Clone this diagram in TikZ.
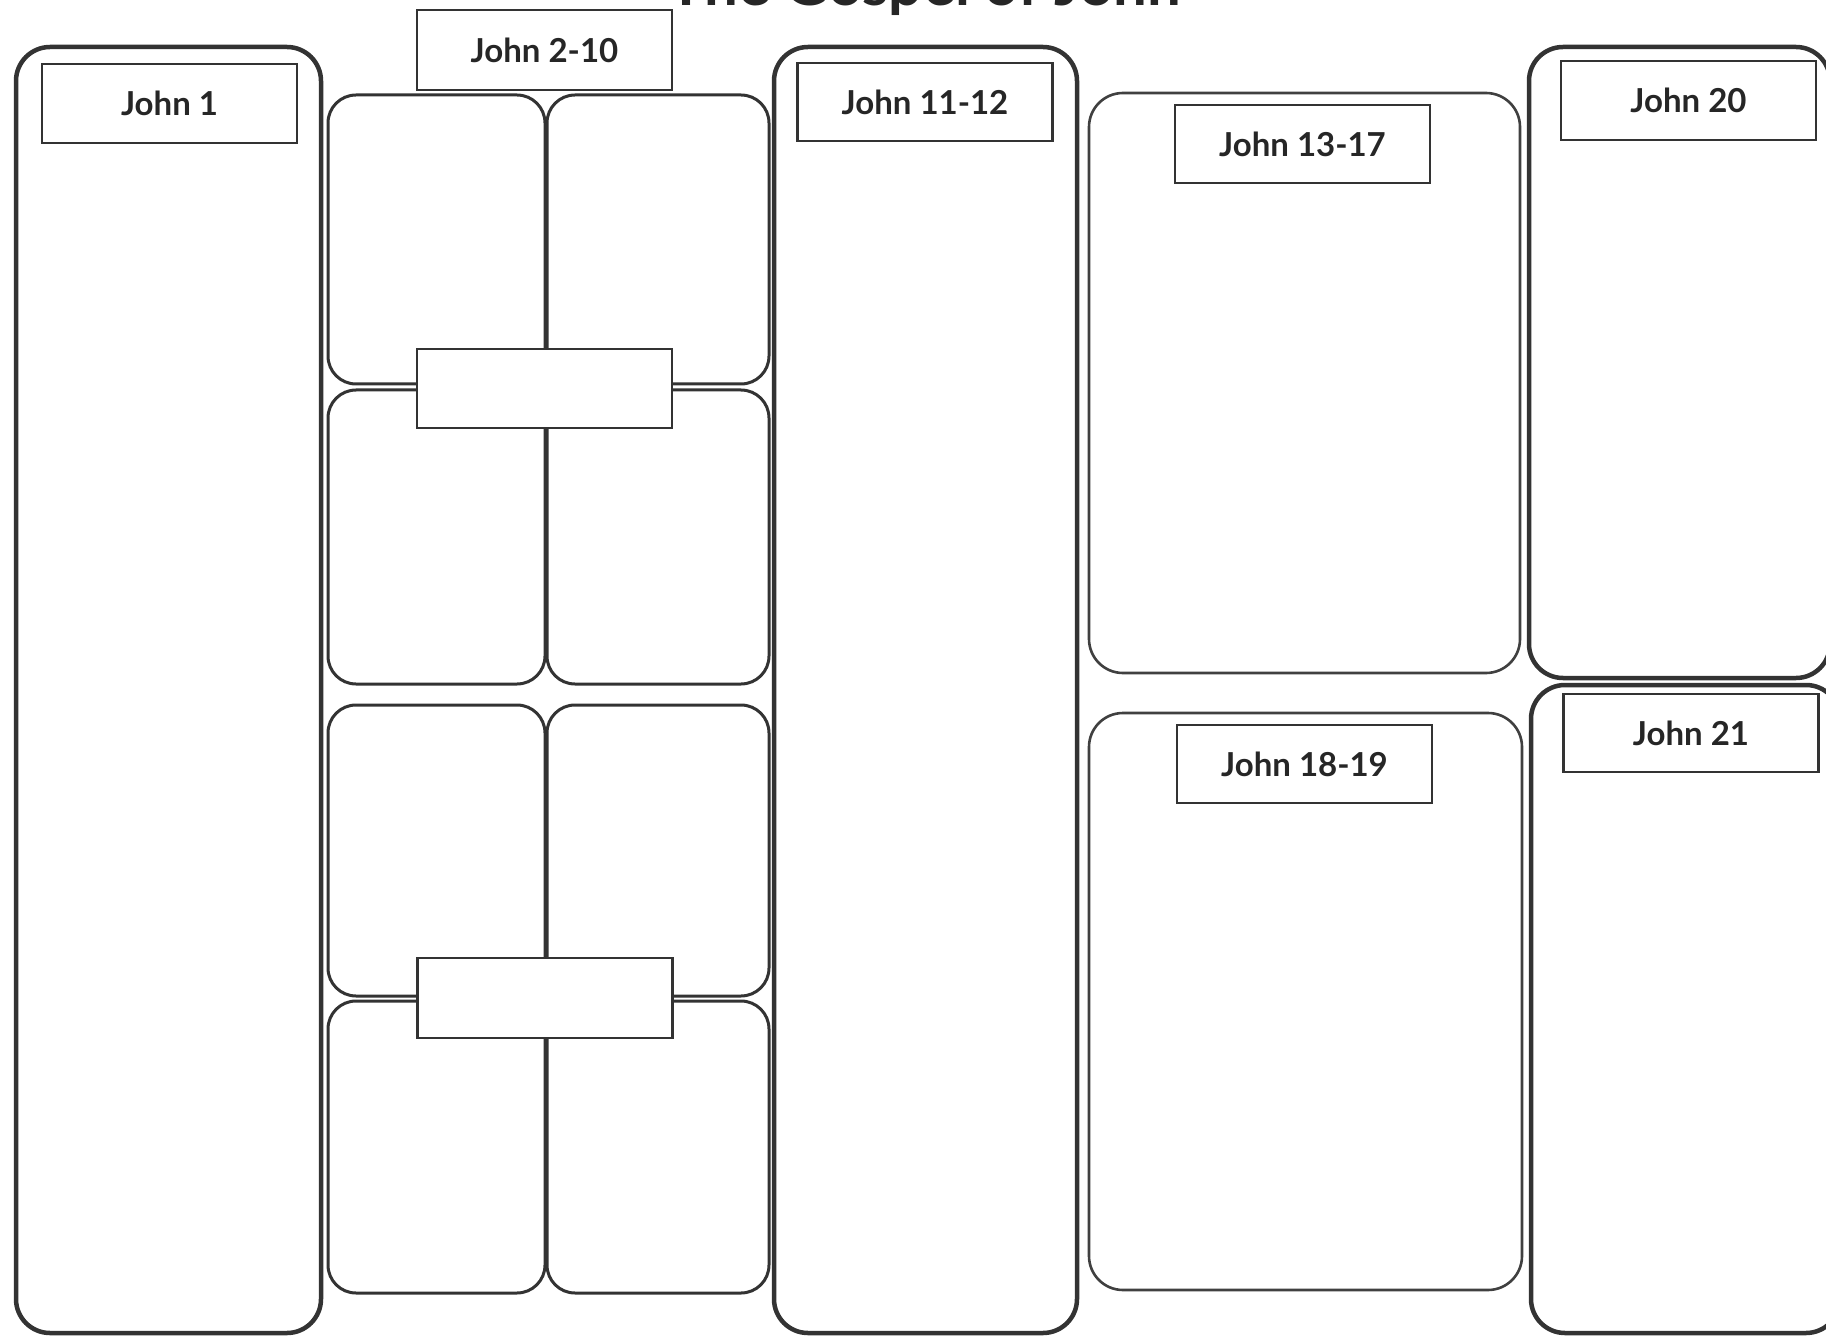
\documentclass[tikz,border=0pt]{standalone}
\usepackage{fontspec}
\setmainfont{Lato}
\begin{document}
\begin{tikzpicture}[x=1pt,y=-1pt,
  outerbox/.style={draw=black!80, line width=4.5pt, rounded corners=34pt, inner sep=0pt},
  gridbox/.style={draw=black!80, line width=3pt, rounded corners=28pt, inner sep=0pt},
  bigbox/.style={draw=black!75, line width=2.6pt, rounded corners=34pt, inner sep=0pt},
  labelbox/.style={draw=black!80, fill=white, line width=2.4pt, inner sep=0pt,
    minimum width=255pt, minimum height=79pt, font=\fontsize{33}{36}\selectfont\bfseries, text=black!85},
  titletext/.style={font=\fontsize{60}{64}\selectfont\bfseries, text=black!85, inner sep=0pt, anchor=base}
]
\useasboundingbox (0,0) rectangle (1826,1337);
\clip (0,0) rectangle (1826,1337);
\fill[white] (0,0) rectangle (1826,1337);

% title (cut off at the top, as in the reference)
\node[titletext] (title) at (925,6) {The Gospel of John};

% outer tall boxes
\node[outerbox, minimum width=305pt, minimum height=1286pt] (j1box) at (168.5,690) {};
\node[outerbox, minimum width=303pt, minimum height=1286pt] (j1112box) at (925.5,690) {};
\node[outerbox, minimum width=301pt, minimum height=631pt] (j20box) at (1679.5,362.5) {};
\node[outerbox, minimum width=309pt, minimum height=648pt] (j21box) at (1685.5,1009) {};

% large boxes 13-17 and 18-19
\node[bigbox, minimum width=431pt, minimum height=580pt] (j1317box) at (1304.5,383) {};
\node[bigbox, minimum width=433pt, minimum height=577pt] (j1819box) at (1305.5,1001.5) {};

% grid of small boxes (John 2-10)
\node[gridbox, minimum width=217pt, minimum height=289pt] (g11) at (436.5,239.5) {};
\node[gridbox, minimum width=222pt, minimum height=289pt] (g12) at (658,239.5) {};
\node[gridbox, minimum width=217pt, minimum height=294pt] (g21) at (436.5,537) {};
\node[gridbox, minimum width=222pt, minimum height=294pt] (g22) at (658,537) {};
\node[gridbox, minimum width=217pt, minimum height=291pt] (g31) at (436.5,850.5) {};
\node[gridbox, minimum width=222pt, minimum height=291pt] (g32) at (658,850.5) {};
\node[gridbox, minimum width=217pt, minimum height=292pt] (g41) at (436.5,1147) {};
\node[gridbox, minimum width=222pt, minimum height=292pt] (g42) at (658,1147) {};

% label boxes
\node[labelbox] (l1) at (169.5,103.5) {John 1};
\node[labelbox, minimum height=80pt] (l210) at (544.5,50) {John 2-10};
\node[labelbox] (lm1) at (544.5,388.5) {};
\node[labelbox, minimum height=80pt] (lm2) at (545,998) {};
\node[labelbox, minimum height=78pt] (l1112) at (925,102) {John 11-12};
\node[labelbox, minimum height=78pt] (l1317) at (1302.5,144) {John 13-17};
\node[labelbox, minimum height=78pt] (l1819) at (1304.5,764) {John 18-19};
\node[labelbox] (l20) at (1688.5,100.5) {John 20};
\node[labelbox, minimum height=78pt] (l21) at (1691,733) {John 21};
\end{tikzpicture}
\end{document}
